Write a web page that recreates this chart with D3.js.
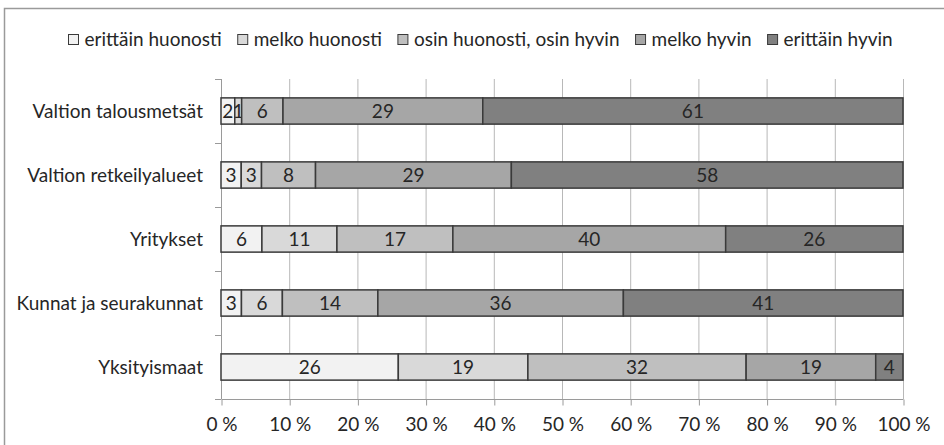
<!DOCTYPE html>
<html>
<head>
<meta charset="utf-8">
<script src="https://cdn.jsdelivr.net/npm/d3@7"></script>
<style>
    body { margin: 0; background: #fff; }
    svg text { font-family: Lato, "Open Sans", sans-serif; fill: #262626; }
</style>
</head>
<body>
<svg id="chart"></svg>
<script>
// data
const categories = ['Valtion talousmetsät', 'Valtion retkeilyalueet', 'Yritykset', 'Kunnat ja seurakunnat', 'Yksityismaat'];
const seriesNames = ['erittäin huonosti', 'melko huonosti', 'osin huonosti, osin hyvin', 'melko hyvin', 'erittäin hyvin'];
const erittainHuonosti = [2, 3, 6, 3, 26];
const melkoHuonosti = [1, 3, 11, 6, 19];
const osinOsin = [6, 8, 17, 14, 32];
const melkoHyvin = [29, 29, 40, 36, 19];
const erittainHyvin = [61, 58, 26, 41, 4];
const xTicks = [0, 10, 20, 30, 40, 50, 60, 70, 80, 90, 100];

const seriesValues = [erittainHuonosti, melkoHuonosti, osinOsin, melkoHyvin, erittainHyvin];
const colors = ['#f2f2f2', '#d9d9d9', '#bfbfbf', '#a6a6a6', '#808080'];

const width = 944, height = 445;
const plot = { left: 221, right: 903, top: 79, bottom: 399 };
const fontSize = '19px';

const svg = d3.select('#chart')
    .attr('width', width)
    .attr('height', height);

// outer frame (only top and left are visible in the crop)
svg.append('rect')
    .attr('x', 4.5).attr('y', 8.5)
    .attr('width', width + 20).attr('height', height + 20)
    .attr('fill', 'none')
    .attr('stroke', '#9a9a9a')
    .attr('stroke-width', 1.5);

// table for the stack
const table = categories.map((c, i) => {
    const row = { category: c };
    seriesNames.forEach((s, j) => row[s] = seriesValues[j][i]);
    return row;
});

const stack = d3.stack()
    .keys(seriesNames)
    .offset(d3.stackOffsetExpand);
const stacked = stack(table);

// scales
const x = d3.scaleLinear()
    .domain([0, 1])
    .range([plot.left, plot.right]);

const y = d3.scaleBand()
    .domain(categories)
    .range([plot.top, plot.bottom])
    .paddingInner(0.59)
    .paddingOuter(0.295);

// gridlines
svg.append('g')
    .selectAll('line')
    .data(xTicks.slice(1))
    .join('line')
    .attr('x1', d => x(d / 100) + 0.5)
    .attr('x2', d => x(d / 100) + 0.5)
    .attr('y1', plot.top)
    .attr('y2', plot.bottom)
    .attr('stroke', '#b8b8b8')
    .attr('stroke-width', 1);

// x axis
const xAxis = d3.axisBottom(x)
    .tickValues(xTicks.map(d => d / 100))
    .tickFormat(d => Math.round(d * 100) + ' %')
    .tickSize(6)
    .tickPadding(12);

const gx = svg.append('g')
    .attr('transform', `translate(0.5,${plot.bottom + 0.5})`)
    .call(xAxis);
gx.select('.domain').attr('stroke', '#9a9a9a').attr('d', `M${plot.left},0H${plot.right}`);
gx.selectAll('.tick line').attr('stroke', '#9a9a9a');
gx.selectAll('.tick text')
    .style('font-size', fontSize)
    .style('font-family', 'Lato, sans-serif')
    .attr('fill', '#262626');

// y axis: line, ticks between bands, labels
const step = y.step();
const boundaries = d3.range(categories.length + 1).map(i => plot.top + i * step);

const gy = svg.append('g');
gy.append('line')
    .attr('x1', plot.left + 0.5).attr('x2', plot.left + 0.5)
    .attr('y1', plot.top).attr('y2', plot.bottom)
    .attr('stroke', '#9a9a9a');
gy.selectAll('.ytick')
    .data(boundaries)
    .join('line')
    .attr('class', 'ytick')
    .attr('x1', plot.left - 6).attr('x2', plot.left)
    .attr('y1', d => Math.round(d) + 0.5)
    .attr('y2', d => Math.round(d) + 0.5)
    .attr('stroke', '#9a9a9a');
gy.selectAll('.ylabel')
    .data(categories)
    .join('text')
    .attr('class', 'ylabel')
    .attr('x', 203)
    .attr('y', d => y(d) + y.bandwidth() / 2)
    .attr('dy', '0.35em')
    .attr('text-anchor', 'end')
    .style('font-size', fontSize)
    .text(d => d);

// bars
const layers = svg.append('g')
    .selectAll('g')
    .data(stacked)
    .join('g')
    .attr('fill', (d, i) => colors[i]);

layers.selectAll('rect')
    .data(d => d)
    .join('rect')
    .attr('x', d => x(d[0]))
    .attr('y', d => y(d.data.category))
    .attr('width', d => x(d[1]) - x(d[0]))
    .attr('height', y.bandwidth())
    .attr('stroke', '#3a3a3a')
    .attr('stroke-width', 1.5);

// data labels
layers.each(function(layer) {
    d3.select(this).selectAll('text')
        .data(layer)
        .join('text')
        .attr('x', d => (x(d[0]) + x(d[1])) / 2)
        .attr('y', d => y(d.data.category) + y.bandwidth() / 2)
        .attr('dy', '0.35em')
        .attr('text-anchor', 'middle')
        .style('font-size', fontSize)
        .text(d => d.data[layer.key]);
});

// legend
const legend = svg.append('g');
const items = legend.selectAll('g')
    .data(seriesNames)
    .join('g');
items.append('rect')
    .attr('x', 0).attr('y', -11)
    .attr('width', 10).attr('height', 10)
    .attr('fill', (d, i) => colors[i])
    .attr('stroke', '#3a3a3a')
    .attr('stroke-width', 1);
items.append('text')
    .attr('x', 16)
    .attr('y', 0)
    .style('font-size', fontSize)
    .text(d => d);

let pos = 0;
items.each(function() {
    const w = d3.select(this).select('text').node().getComputedTextLength();
    d3.select(this).attr('transform', `translate(${pos},0)`);
    pos += 16 + w + 16;
});
const totalW = pos - 16;
legend.attr('transform', `translate(${Math.round(480 - totalW / 2) + 0.5},45.5)`);
</script>
</body>
</html>
